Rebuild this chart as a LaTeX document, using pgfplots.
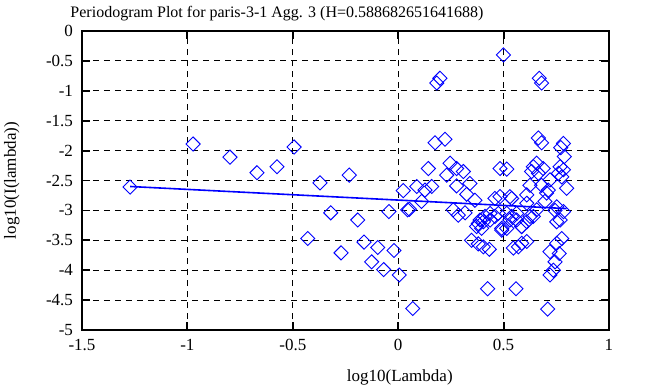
\documentclass[border=0pt]{standalone}
\usepackage{pgfplots}
\pgfplotsset{compat=1.18}
\usepackage{fontspec}
\setmainfont{Liberation Serif}
\definecolor{pblue}{RGB}{0,0,255}
\begin{document}
\begin{tikzpicture}
\useasboundingbox (-41pt,-28.5pt) rectangle (282.5pt,165pt);
\begin{axis}[
  scale only axis,
  width=263.5pt, height=149.5pt,
  xmin=-1.5, xmax=1, ymin=-5, ymax=0,
  xtick={-1.5,-1,-0.5,0,0.5,1},
  xticklabels={-1.5,-1,-0.5,0,0.5,1},
  ytick={-5,-4.5,-4,-3.5,-3,-2.5,-2,-1.5,-1,-0.5,0},
  yticklabels={-5,-4.5,-4,-3.5,-3,-2.5,-2,-1.5,-1,-0.5,0},
  tick align=inside, tick pos=both,
  major tick length=4pt,
  tick style={black, line width=0.9pt},
  axis line style={black, line width=1.3pt},
  grid=major,
  major grid style={black, line width=0.5pt, dash pattern=on 3pt off 2.5pt},
  ticklabel style={font=\fontsize{8.5}{10}\selectfont},
  xticklabel style={yshift=-1pt},
  yticklabel style={xshift=-1pt},
  title={Periodogram Plot for paris-3-1 Agg. 3 (H=0.588682651641688)},
  title style={at={(axis description cs:0.37,1)}, anchor=south, yshift=-4.5pt, font=\fontsize{8}{10}\selectfont},
  xlabel={log10(Lambda)},
  xlabel style={at={(axis description cs:0.603,-0.16)}, anchor=center, font=\fontsize{8.5}{10}\selectfont},
  ylabel={log10(I(lambda))},
  ylabel style={at={(axis description cs:-0.133,0.5)}, anchor=center, font=\fontsize{8.5}{10}\selectfont},
  clip=false,
]
\addplot[only marks, mark=square, mark size=2.5pt, mark options={rotate=45, draw=pblue, line width=0.45pt, fill=none}] coordinates {
(-1.272,-2.61) (-0.973,-1.89) (-0.798,-2.11) (-0.670,-2.37) (-0.575,-2.27)
(-0.494,-1.94) (-0.371,-2.54) (-0.232,-2.41) (-0.429,-3.47) (-0.320,-3.04)
(-0.192,-3.16) (-0.044,-3.02) (0.045,-2.99) (-0.162,-3.53) (-0.271,-3.71)
(-0.097,-3.62) (-0.020,-3.67) (-0.126,-3.86) (-0.069,-3.99) (0.005,-4.08)
(0.069,-4.64) (0.024,-2.67)
(0.499,-0.40) (0.198,-0.79) (0.183,-0.87) (0.669,-0.79) (0.680,-0.87)
(0.175,-1.87) (0.222,-1.81) (0.665,-1.79) (0.680,-1.87) (0.784,-1.88)
(0.771,-1.95) (0.788,-2.10)
(0.143,-2.30) (0.246,-2.21) (0.277,-2.30) (0.309,-2.35) (0.230,-2.41)
(0.277,-2.59) (0.340,-2.55) (0.483,-2.30) (0.515,-2.31)
(0.088,-2.60) (0.127,-2.66) (0.159,-2.60) (0.111,-2.85) (0.325,-2.73)
(0.364,-2.83) (0.053,-2.98) (0.261,-2.99) (0.285,-3.08) (0.317,-3.04)
(0.388,-3.16) (0.412,-3.10) (0.459,-2.80) (0.483,-2.77) (0.436,-3.05)
(0.459,-3.10) (0.380,-3.22) (0.396,-3.30) (0.436,-3.16) (0.475,-3.05)
(0.491,-3.33) (0.515,-3.05) (0.530,-2.77) (0.538,-3.10) (0.562,-3.16)
(0.586,-3.27) (0.610,-2.88) (0.625,-2.58) (0.625,-3.10) (0.657,-2.99)
(0.704,-2.71) (0.720,-2.49) (0.752,-2.94) (0.768,-3.16) (0.799,-2.63)
(0.784,-3.02)
(0.641,-2.27) (0.633,-2.35) (0.665,-2.38) (0.760,-2.38) (0.784,-2.32)
(0.776,-2.44) (0.680,-2.58) (0.712,-2.66) (0.538,-2.80) (0.610,-2.74)
(0.696,-2.85) (0.744,-3.00) (0.562,-3.05) (0.641,-3.10) (0.530,-3.16)
(0.657,-2.21) (0.688,-2.30) (0.768,-2.27)
(0.372,-3.27) (0.404,-3.19) (0.491,-3.30) (0.348,-3.50) (0.380,-3.56)
(0.404,-3.61) (0.432,-3.65) (0.424,-4.31)
(0.515,-3.30) (0.586,-3.27) (0.610,-3.19) (0.546,-3.63) (0.570,-3.61)
(0.586,-3.55) (0.610,-3.52) (0.776,-3.47) (0.752,-3.55) (0.720,-3.69)
(0.764,-3.72) (0.744,-3.86) (0.736,-4.00) (0.720,-4.08) (0.559,-4.31)
(0.709,-4.65) (0.752,-3.19)
};
\addplot[pblue, line width=0.8pt] coordinates {(-1.272,-2.60) (0.799,-2.97)};
\end{axis}
\end{tikzpicture}
\end{document}
